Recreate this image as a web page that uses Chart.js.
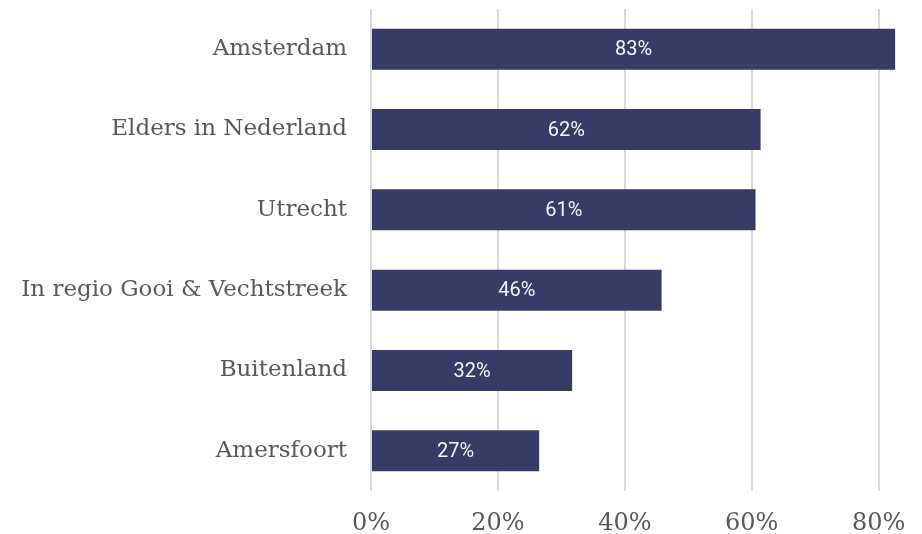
<!DOCTYPE html>
<html>
<head>
<meta charset="utf-8">
<script src="https://cdn.jsdelivr.net/npm/chart.js@4/dist/chart.umd.min.js"></script>
<style>
html,body{margin:0;padding:0;background:#fff;}
#wrap{width:922px;height:534px;}
</style>
</head>
<body>
<div id="wrap"><canvas id="c" width="922" height="534"></canvas></div>
<script>
const categories = ["Amsterdam", "Elders in Nederland", "Utrecht", "In regio Gooi & Vechtstreek", "Buitenland", "Amersfoort"];
const values = [82.6, 61.4, 60.6, 45.8, 31.7, 26.5];
const valueLabels = ["83%", "62%", "61%", "46%", "32%", "27%"];
const tickValues = [0, 20, 40, 60, 80];

const barLabels = {
  id: 'barLabels',
  afterDatasetsDraw(chart) {
    const ctx = chart.ctx;
    const meta = chart.getDatasetMeta(0);
    ctx.save();
    ctx.fillStyle = '#f4f4f8';
    ctx.font = '20px Roboto';
    ctx.textAlign = 'center';
    ctx.textBaseline = 'middle';
    meta.data.forEach((bar, i) => {
      const cx = (bar.x + bar.base) / 2;
      ctx.fillText(valueLabels[i], cx, bar.y + 1);
    });
    ctx.restore();
  }
};

new Chart(document.getElementById('c'), {
  type: 'bar',
  data: {
    labels: categories,
    datasets: [{
      data: values,
      backgroundColor: '#383b66',
      barPercentage: 0.51,
      categoryPercentage: 1.0
    }]
  },
  options: {
    indexAxis: 'y',
    responsive: false,
    animation: false,
    layout: { padding: { top: 9, right: 18, bottom: 0, left: 0 } },
    plugins: { legend: { display: false }, tooltip: { enabled: false } },
    scales: {
      x: {
        min: 0, max: 84,
        afterBuildTicks(scale) { scale.ticks = tickValues.map(v => ({ value: v })); },
        afterFit(scale) { scale.height = 43; scale.paddingLeft = 0; scale.paddingRight = 0; },
        border: { display: false },
        grid: { color: '#d9d9d9', lineWidth: 2, drawTicks: false },
        ticks: {
          padding: 18,
          color: '#595959',
          font: { family: 'DejaVu Serif', size: 24 },
          callback: v => v + '%'
        }
      },
      y: {
        afterFit(scale) { scale.width = 371; scale.paddingTop = 0; scale.paddingBottom = 0; },
        border: { display: false },
        grid: { display: false, drawTicks: false, tickLength: 0 },
        ticks: {
          padding: 24,
          color: '#595959',
          font: { family: 'DejaVu Serif', size: 23 }
        }
      }
    }
  },
  plugins: [barLabels]
});
</script>
</body>
</html>
